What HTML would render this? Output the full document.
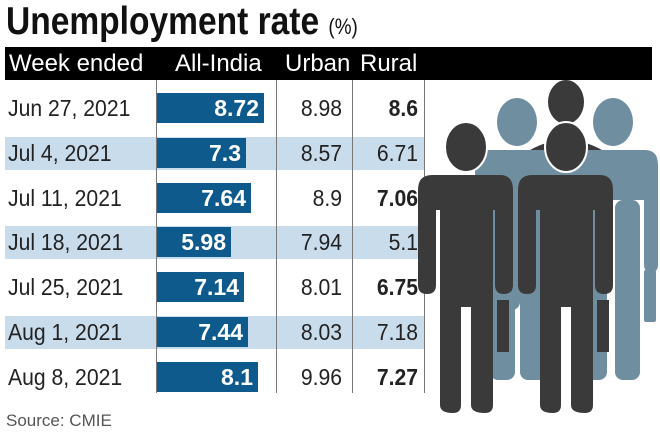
<!DOCTYPE html>
<html><head><style>
body{margin:0;width:660px;height:440px;background:#fff;position:relative;overflow:hidden;font-family:"Liberation Sans Narrow","Liberation Sans",sans-serif;}
div{position:absolute;}
.t{font-size:23px;line-height:30px;color:#222;}
.l{transform:scaleX(0.92);transform-origin:left center;white-space:nowrap;}
.r{transform:scaleX(0.92);transform-origin:right center;}
.shade{left:5px;width:420px;height:33px;background:#c9dcec;}
.bar{left:157px;height:30px;background:#0f5a8c;color:#fff;font-weight:bold;text-align:right;font-size:23px;line-height:30px;box-sizing:border-box;padding-right:5px;}
.vl{width:1px;background:#777;top:80px;height:313px;}
</style></head><body>
<div style="left:6px;top:-2px;font-size:39px;font-weight:bold;color:#111;line-height:48px;transform:scaleX(0.86);transform-origin:left center;white-space:nowrap;">Unemployment rate <span style="font-size:22px;font-weight:normal">(%)</span></div>
<div style="left:5px;top:47px;width:647px;height:33px;background:#000;"></div>
<div style="left:9px;top:48px;color:#fff;font-size:24px;line-height:32px;">Week ended</div>
<div style="left:175px;top:48px;color:#fff;font-size:24px;line-height:32px;">All-India</div>
<div style="left:285px;top:48px;color:#fff;font-size:24px;line-height:32px;">Urban</div>
<div style="left:360px;top:48px;color:#fff;font-size:24px;line-height:32px;">Rural</div>

<div class="shade" style="top:137px"></div>
<div class="shade" style="top:226px"></div>
<div class="shade" style="top:316px"></div>

<div class="vl" style="left:156px"></div>
<div class="vl" style="left:276px"></div>
<div class="vl" style="left:352px"></div>
<div class="vl" style="left:424px"></div>

<div class="t l" style="left:8px;top:93px">Jun 27, 2021</div>
<div class="t l" style="left:8px;top:138px">Jul 4, 2021</div>
<div class="t l" style="left:8px;top:183px">Jul 11, 2021</div>
<div class="t l" style="left:8px;top:227px">Jul 18, 2021</div>
<div class="t l" style="left:8px;top:272px">Jul 25, 2021</div>
<div class="t l" style="left:8px;top:317px">Aug 1, 2021</div>
<div class="t l" style="left:8px;top:362px">Aug 8, 2021</div>

<div class="bar" style="top:93px;width:107px">8.72</div>
<div class="bar" style="top:138px;width:89px">7.3</div>
<div class="bar" style="top:183px;width:94px">7.64</div>
<div class="bar" style="top:227px;width:74px">5.98</div>
<div class="bar" style="top:272px;width:87px">7.14</div>
<div class="bar" style="top:317px;width:91px">7.44</div>
<div class="bar" style="top:362px;width:101px">8.1</div>

<div class="t r" style="left:280px;width:62px;text-align:right;top:93px">8.98</div>
<div class="t r" style="left:280px;width:62px;text-align:right;top:138px">8.57</div>
<div class="t r" style="left:280px;width:62px;text-align:right;top:183px">8.9</div>
<div class="t r" style="left:280px;width:62px;text-align:right;top:227px">7.94</div>
<div class="t r" style="left:280px;width:62px;text-align:right;top:272px">8.01</div>
<div class="t r" style="left:280px;width:62px;text-align:right;top:317px">8.03</div>
<div class="t r" style="left:280px;width:62px;text-align:right;top:362px">9.96</div>

<div class="t r" style="left:356px;width:62px;text-align:right;top:93px;font-weight:bold">8.6</div>
<div class="t r" style="left:356px;width:62px;text-align:right;top:138px">6.71</div>
<div class="t r" style="left:356px;width:62px;text-align:right;top:183px;font-weight:bold">7.06</div>
<div class="t r" style="left:356px;width:62px;text-align:right;top:227px">5.1</div>
<div class="t r" style="left:356px;width:62px;text-align:right;top:272px;font-weight:bold">6.75</div>
<div class="t r" style="left:356px;width:62px;text-align:right;top:317px">7.18</div>
<div class="t r" style="left:356px;width:62px;text-align:right;top:362px;font-weight:bold">7.27</div>

<div style="left:6px;top:410px;font-size:17px;color:#555;line-height:22px;">Source: CMIE</div>

<svg style="position:absolute;left:0;top:0" width="660" height="440">
<g fill="#6f8ea0">
<ellipse cx="517" cy="122" rx="20" ry="24"/>
<ellipse cx="613" cy="122" rx="20" ry="24"/>
<path d="M475 150 H555 Q568 150 568 165 V250 H475 Z"/>
<path d="M555 150 H645 Q658 150 658 165 V265 Q658 272 651 272 Q644 272 644 265 V200 H555 Z"/>
<rect x="490" y="200" width="30" height="110" rx="8"/>
<rect x="520" y="200" width="27" height="180" rx="8"/>
<rect x="580" y="200" width="27" height="180" rx="8"/>
<rect x="615" y="200" width="25" height="180" rx="8"/>
<rect x="490" y="280" width="25" height="100" rx="8"/>
<rect x="644" y="270" width="12" height="52" rx="2"/>
</g>
<g fill="#3a3a3a">
<ellipse cx="566" cy="102" rx="18" ry="22"/>
<path d="M530 150 Q566 130 602 150 Z"/>
</g>
<g fill="#3a3a3a" stroke="#fff" stroke-width="2">
<ellipse cx="466" cy="147" rx="21" ry="25"/>
<ellipse cx="566" cy="147" rx="21" ry="25"/>
</g>
<g fill="#3a3a3a">
<path d="M432 175 H500 Q513 175 513 190 V285 Q513 294 504 294 Q495 294 495 285 V210 H493 V405 Q493 413 485 413 Q471 413 471 405 V307 H461 V405 Q461 413 453 413 Q440 413 440 405 V210 H436 V285 Q436 294 427 294 Q418 294 418 285 V190 Q418 175 432 175 Z"/>
<path d="M532 175 H600 Q613 175 613 190 V285 Q613 294 604 294 Q595 294 595 285 V210 H593 V405 Q593 413 585 413 Q571 413 571 405 V307 H561 V405 Q561 413 553 413 Q540 413 540 405 V210 H536 V285 Q536 294 527 294 Q518 294 518 285 V190 Q518 175 532 175 Z"/>
<rect x="497" y="300" width="12" height="52"/>
<rect x="597" y="300" width="12" height="52"/>
</g>
</svg>
</body></html>
